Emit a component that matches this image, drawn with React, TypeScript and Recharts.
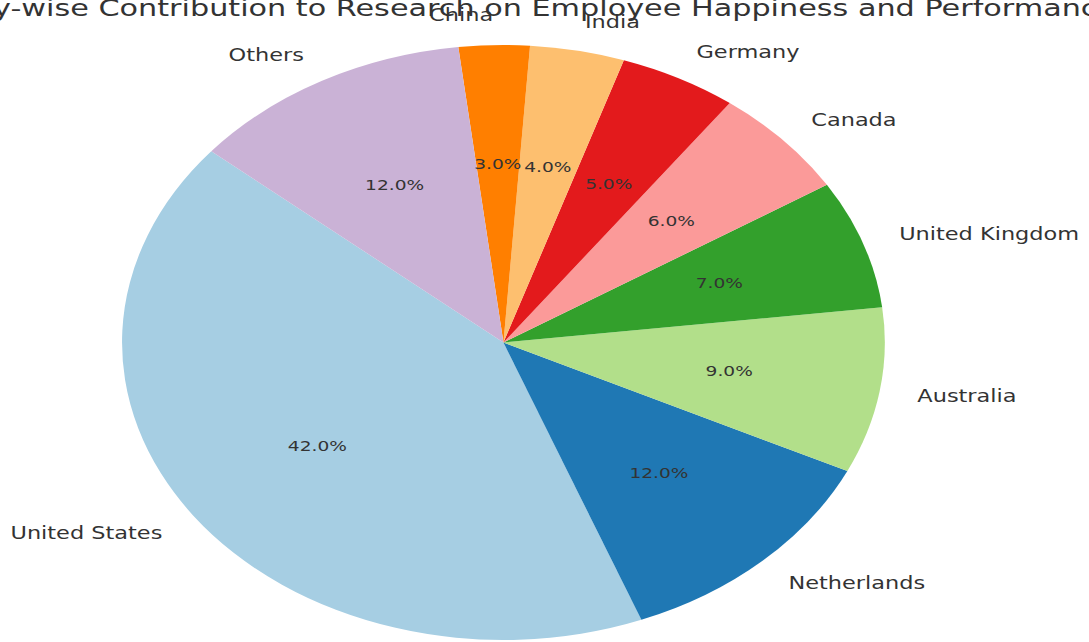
import { PieChart, Pie, Cell } from 'recharts'

const countries = ['United States', 'Netherlands', 'Australia', 'United Kingdom', 'Canada', 'Germany', 'India', 'China', 'Others']
const shares = [42, 12, 9, 7, 6, 5, 4, 3, 12]
const colors = ['#a6cee3', '#1f78b4', '#b2df8a', '#33a02c', '#fb9a99', '#e31a1c', '#fdbf6f', '#ff7f00', '#cab2d6']

const title = 'Country-wise Contribution to Research on Employee Happiness and Performance'

const data = countries.map((name, i) => ({ name, value: shares[i] }))

// the reference image is stretched horizontally, so the chart is drawn narrow and scaled
const STRETCH = 1.282
const W = 849
const H = 642
const CX = 392.7
const CY = 342.5
const R = 297.5
const RADIAN = Math.PI / 180
const FONT = '"DejaVu Sans", sans-serif'

function renderLabel(props: any) {
  const { cx, cy, midAngle, outerRadius, percent, name } = props
  const cos = Math.cos(-midAngle * RADIAN)
  const sin = Math.sin(-midAngle * RADIAN)
  const lx = cx + outerRadius * 1.1 * cos
  const ly = cy + outerRadius * 1.1 * sin
  const px = cx + outerRadius * 0.6 * cos
  const py = cy + outerRadius * 0.6 * sin
  return (
    <g>
      <text x={lx} y={ly} fill="#333" fontSize={17.5} fontFamily={FONT} textAnchor={cos >= 0 ? 'start' : 'end'} dominantBaseline="central">
        {name}
      </text>
      <text x={px} y={py} fill="#333" fontSize={14.5} fontFamily={FONT} textAnchor="middle" dominantBaseline="central">
        {`${(percent * 100).toFixed(1)}%`}
      </text>
    </g>
  )
}

export default function App() {
  return (
    <div style={{ position: 'absolute', left: 0, top: 0, width: 1089, height: 642, overflow: 'hidden', background: '#fff' }}>
      <div style={{ position: 'absolute', left: 0, top: 0, width: W, height: H, transform: `scaleX(${STRETCH})`, transformOrigin: '0 0' }}>
        <PieChart width={W} height={H} margin={{ top: 0, right: 0, bottom: 0, left: 0 }}>
          <Pie
            data={data}
            dataKey="value"
            nameKey="name"
            cx={CX}
            cy={CY}
            outerRadius={R}
            startAngle={140}
            endAngle={500}
            stroke="none"
            label={renderLabel}
            labelLine={false}
            isAnimationActive={false}
          >
            {data.map((d, i) => (
              <Cell key={d.name} fill={colors[i]} />
            ))}
          </Pie>
        </PieChart>
        <svg width={W} height={H} style={{ position: 'absolute', left: 0, top: 0, overflow: 'visible', pointerEvents: 'none' }}>
          <text x={CX} y={16} fill="#333" fontSize={23.6} fontFamily={FONT} textAnchor="middle">
            {title}
          </text>
        </svg>
      </div>
    </div>
  )
}
